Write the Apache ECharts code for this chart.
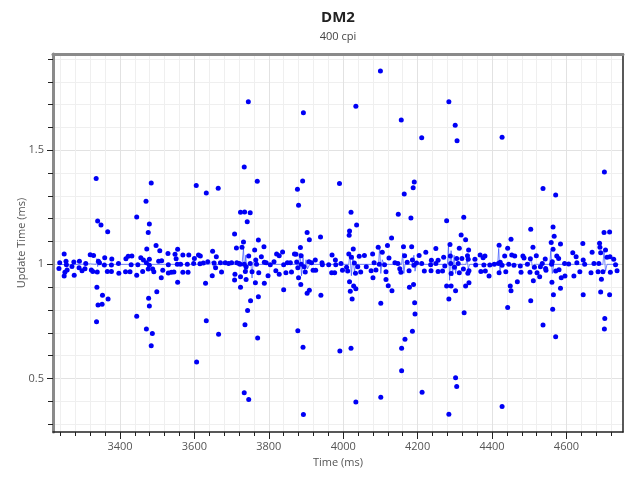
<!DOCTYPE html>
<html>
<head>
<meta charset="utf-8">
<script src="https://cdn.jsdelivr.net/npm/echarts@6/dist/echarts.min.js"></script>
<style>html,body{margin:0;padding:0;background:#fff}#c{width:640px;height:480px}</style>
</head>
<body>
<div id="c"></div>
<script>
// ---- data (time ms, update time ms) ----
const bandLeft = [
[3238,1.007],[3236,0.982],[3250,1.045],[3255,1.014],[3256,0.998],[3252,0.965],[3250,0.949],[3258,0.975],[3271,0.990],[3276,1.010],
[3277,0.952],[3291,1.013],[3290,0.985],[3298,0.972],[3308,1.004],[3306,0.981],[3320,1.042],[3323,0.975],[3329,1.039],[3327,0.969],
[3342,1.014],[3339,0.966],[3345,1.007],[3359,1.029],[3358,0.997],[3366,0.969],[3377,0.969],[3378,1.023],[3377,0.997],[3397,0.961],
[3396,1.004],[3416,1.025],[3415,0.967],[3422,1.035],[3432,1.036],[3430,0.998],[3427,0.967],[3445,0.952],[3448,0.998],[3456,1.029],
[3463,1.019],[3461,0.969],[3472,1.067],[3471,1.007],[3476,0.979],[3479,1.022],[3479,0.996],[3488,0.979],[3491,0.967],[3497,1.083],
[3504,1.014],[3507,1.060],[3512,1.016],[3511,0.941],[3515,0.974],[3529,1.048],[3530,0.998],[3530,0.962],[3538,0.965],[3545,0.966],
[3548,1.044],[3555,1.066],[3551,1.025],[3554,1.000],[3563,1.000],[3569,1.041],[3569,0.965],[3585,1.041],[3581,1.000],[3583,0.965],
[3598,1.004],[3600,1.026],[3611,1.041],[3616,1.036],[3615,1.003],[3624,1.006],[3636,1.011],[3649,1.057],[3648,0.950],[3653,1.006],
[3657,0.985],[3659,1.033],[3670,1.007],[3673,0.966],[3683,1.007],[3692,1.004],[3700,1.007],[3708,0.931],[3709,0.957],[3714,1.007],
[3724,0.946],[3720,1.004],[3734,1.000],[3737,0.969],[3739,0.934]
];
const bandMid = [
[3723,1.000],[3739,0.989],[3746,1.036],[3750,1.004],[3755,0.967],[3762,1.063],[3765,1.019],[3767,1.000],[3773,0.963],[3780,1.033],
[3788,1.009],[3793,1.007],[3798,0.950],[3804,0.998],[3814,1.011],[3819,0.972],[3821,1.045],[3828,1.038],[3828,0.956],[3837,1.054],
[3840,0.998],[3846,0.963],[3850,1.007],[3858,1.007],[3861,0.966],[3869,1.045],[3873,1.044],[3875,1.010],[3878,0.985],[3880,0.941],
[3887,1.038],[3887,1.000],[3895,0.989],[3898,0.966],[3908,1.011],[3915,1.007],[3919,0.974],[3925,1.019],[3926,0.974],[3943,1.007],
[3944,0.998],[3961,0.998],[3970,1.041],[3969,0.963],[3977,0.963],[3979,1.019],[3980,0.998],[3994,1.004],[3998,0.974],[4009,0.987],
[4012,0.971],[4015,1.045],[4022,1.031],[4027,1.067],[4030,1.006],[4033,0.961],[4039,0.989],[4043,1.035],[4047,0.966],[4057,1.039],
[4062,0.989],[4075,0.972],[4079,1.045],[4083,1.007],[4088,0.975],[4094,1.075],[4097,1.000],[4105,1.053],[4111,0.998],[4115,0.967],
[4123,1.028],[4139,1.007],[4147,1.004],[4152,0.981],[4155,0.965],[4162,1.077],[4165,1.038],[4172,1.009],[4177,0.972],[4186,1.019],
[4190,0.996],[4197,1.006],[4204,1.039],[4211,1.004],[4218,0.971],[4222,1.053],[4235,0.998],[4236,0.972],[4249,1.004]
];
const bandRight = [
[4237,1.018],[4255,1.018],[4255,0.969],[4267,0.971],[4270,1.031],[4273,0.993],[4288,1.036],[4289,1.004],[4290,0.960],[4299,0.987],
[4305,1.026],[4309,1.004],[4312,0.963],[4319,1.026],[4323,0.979],[4334,1.038],[4336,1.022],[4335,0.961],[4338,0.972],[4354,1.022],
[4356,0.997],[4368,1.041],[4370,0.969],[4376,1.029],[4378,0.997],[4381,1.036],[4382,0.971],[4392,0.949],[4394,0.997],[4406,1.000],
[4417,1.004],[4419,0.963],[4422,1.009],[4427,0.996],[4434,1.036],[4445,1.000],[4437,0.967],[4453,1.041],[4461,1.036],[4459,0.996],
[4468,0.924],[4478,0.965],[4476,0.993],[4483,1.036],[4486,1.028],[4495,1.000],[4502,0.965],[4503,1.025],[4511,0.928],[4514,0.987],
[4519,1.038],[4521,0.963],[4528,0.946],[4530,0.989],[4535,1.004],[4543,1.023],[4544,0.982],[4545,0.974],[4560,1.000],[4562,1.011],
[4564,1.066],[4571,0.971],[4574,1.036],[4579,1.026],[4580,0.976],[4586,0.941],[4596,0.949],[4595,1.004],[4606,1.001],[4617,1.051],
[4620,0.949],[4626,1.033],[4628,1.007],[4636,0.968],[4645,1.019],[4649,1.000],[4666,0.963],[4669,1.053],[4674,1.004],[4685,0.968],
[4687,1.004],[4692,1.051],[4694,0.935],[4698,0.968],[4705,1.063],[4709,1.031],[4717,1.033],[4718,0.965],[4727,1.022],[4732,0.998],
[4736,0.972]
];
const highOutliers = [
[3336,1.376],[3340,1.190],[3349,1.172],[3367,1.143],[3445,1.207],[3470,1.276],[3479,1.177],[3476,1.139],[3484,1.357],[3605,1.346],
[3632,1.313],[3664,1.333],[3734,1.427],[3745,1.713],[3724,1.228],[3735,1.229],[3742,1.187],[3750,1.226],[3708,1.133],[3732,1.098],
[3713,1.072],[3728,1.075],[4100,1.847],[3893,1.665],[4034,1.693],[4156,1.633],[4211,1.555],[3769,1.364],[3891,1.365],[3877,1.329],
[3990,1.354],[4191,1.361],[4188,1.336],[4164,1.308],[3880,1.259],[4021,1.228],[4036,1.172],[4017,1.146],[4016,1.127],[4148,1.219],
[4182,1.203],[4130,1.115],[3772,1.107],[3903,1.140],[3909,1.108],[3939,1.120],[3885,1.074],[3787,1.077],[4119,1.082],[4184,1.077],
[4249,1.069],[4284,1.713],[4301,1.610],[4306,1.542],[4427,1.557],[4702,1.405],[4537,1.332],[4571,1.304],[4278,1.191],[4324,1.206],
[4317,1.129],[4329,1.108],[4504,1.154],[4564,1.164],[4567,1.123],[4701,1.140],[4716,1.142],[4451,1.110],[4559,1.096],[4584,1.089],
[4644,1.091],[4689,1.092],[4690,1.075],[4287,1.087],[4419,1.084],[4442,1.071],[4510,1.075],[4312,1.070],[4337,1.063]
];
const lowOutliers = [
[3338,0.899],[3353,0.865],[3341,0.822],[3352,0.825],[3368,0.848],[3337,0.748],[3555,0.921],[3630,0.917],[3477,0.851],[3479,0.817],
[3445,0.772],[3471,0.716],[3487,0.697],[3484,0.643],[3499,0.880],[3632,0.753],[3665,0.694],[3606,0.572],[3724,0.900],[3736,0.735],
[3743,0.798],[3734,0.437],[3746,0.408],[3764,0.919],[3788,0.917],[3751,0.840],[3772,0.858],[3770,0.677],[3840,0.889],[3886,0.912],
[3903,0.873],[3909,0.886],[3940,0.865],[3878,0.709],[3892,0.636],[3991,0.620],[4021,0.632],[4017,0.924],[4019,0.882],[4028,0.905],
[4034,0.893],[4024,0.848],[4101,0.829],[4115,0.934],[4121,0.906],[4131,0.884],[4080,0.941],[4178,0.899],[4189,0.912],[4192,0.832],
[4193,0.782],[4186,0.707],[4166,0.672],[4157,0.632],[4157,0.533],[3893,0.342],[4034,0.396],[4101,0.417],[4212,0.439],[4278,0.905],
[4290,0.905],[4302,0.884],[4284,0.848],[4325,0.788],[4329,0.905],[4338,0.919],[4449,0.905],[4451,0.884],[4442,0.811],[4504,0.840],
[4537,0.734],[4563,0.803],[4565,0.867],[4561,0.921],[4584,0.895],[4571,0.682],[4645,0.867],[4692,0.879],[4716,0.867],[4703,0.763],
[4702,0.716],[4302,0.503],[4305,0.465],[4284,0.343],[4427,0.377]
];
// thin trace line near 1 ms
const traceLine = [
[3236,1.0],[3260,0.998],[3290,1.0],[3320,1.002],[3336,1.0],[3338,1.025],[3340,0.99],[3343,1.01],[3350,0.997],[3380,1.0],
[3420,1.0],[3470,1.0],[3474,1.015],[3477,0.985],[3480,1.0],[3520,1.0],[3560,1.0],[3600,1.0],[3640,1.0],[3648,1.012],
[3651,0.99],[3655,1.0],[3700,1.0],[3728,1.0],[3732,1.07],[3735,0.96],[3738,1.04],[3741,0.97],[3745,1.0],[3752,1.0],
[3755,0.94],[3758,1.01],[3765,1.0],[3800,1.0],[3840,1.0],[3880,1.0],[3884,1.05],[3888,0.95],[3892,1.03],[3896,0.97],
[3900,1.02],[3904,0.98],[3910,1.0],[3960,1.0],[4015,1.0],[4018,1.05],[4022,0.95],[4026,1.04],[4030,0.97],[4035,1.0],
[4080,1.0],[4095,1.0],[4098,1.08],[4101,0.96],[4105,1.02],[4110,1.0],[4150,1.0],[4157,1.0],[4160,1.05],[4163,0.96],
[4166,1.0],[4185,1.0],[4190,1.04],[4193,0.97],[4197,1.0],[4240,1.0],[4280,1.0],[4283,1.08],[4286,0.93],[4290,1.06],
[4294,0.95],[4298,1.04],[4302,0.96],[4306,1.0],[4330,1.0],[4333,1.03],[4336,0.98],[4340,1.0],[4380,1.0],[4415,1.0],
[4418,1.07],[4421,0.96],[4425,1.0],[4450,1.0],[4500,1.0],[4505,1.03],[4509,0.98],[4513,1.0],[4555,1.0],[4558,1.06],
[4562,0.96],[4566,1.0],[4620,1.0],[4698,1.0],[4701,1.06],[4705,0.97],[4709,1.0],[4740,1.0]
];
// ticks
const xMajorTicks = [3400,3600,3800,4000,4200,4400,4600];
const xMinorTicks = [3240,3280,3320,3360,3400,3440,3480,3520,3560,3600,3640,3680,3720,3760,3800,3840,3880,3920,3960,4000,
4040,4080,4120,4160,4200,4240,4280,4320,4360,4400,4440,4480,4520,4560,4600,4640,4680,4720];
const yMajorTicks = [0.5,1,1.5];
const yMinorTicks = [0.3,0.4,0.5,0.6,0.7,0.8,0.9,1,1.1,1.2,1.3,1.4,1.5,1.6,1.7,1.8,1.9];
const xRange = [3220,4752];
const yRange = [0.265,1.922];

const FONT = '"Open Sans", "Noto Sans", sans-serif';
const allPoints = bandLeft.concat(bandMid, bandRight, highOutliers, lowOutliers);

const chart = echarts.init(document.getElementById('c'), null, {renderer:'canvas'});
const labelStyle = {color:'#555', fontSize:11, fontFamily:FONT};
const plain = v => String(v);
chart.setOption({
  animation:false,
  backgroundColor:'#fff',
  title:{
    text:'DM2', subtext:'400 cpi', left:333, top:5, textAlign:'center', itemGap:6,
    textStyle:{fontSize:15, fontWeight:'bold', color:'#222', fontFamily:FONT},
    subtextStyle:{fontSize:11, color:'#444', fontFamily:FONT}
  },
  grid:{left:53, right:17, top:54, bottom:48, containLabel:false},
  xAxis:[
    {type:'value', min:xRange[0], max:xRange[1], position:'bottom',
     axisLine:{show:true, lineStyle:{color:'#222', width:1.5}},
     axisTick:{show:true, length:4, customValues:xMinorTicks, lineStyle:{color:'#222'}},
     axisLabel:{show:false},
     splitLine:{show:true, lineStyle:{color:'#efefef', width:1}}},
    {type:'value', min:xRange[0], max:xRange[1], position:'bottom', offset:0,
     name:'Time (ms)', nameLocation:'middle', nameGap:25, nameTextStyle:labelStyle, nameMoveOverlap:false,
     axisLine:{show:false},
     axisTick:{show:true, length:7, customValues:xMajorTicks, lineStyle:{color:'#222'}},
     axisLabel:Object.assign({customValues:xMajorTicks, margin:9, formatter:plain}, labelStyle),
     splitLine:{show:true, lineStyle:{color:'#e2e2e2', width:1}}},
    {type:'value', min:xRange[0], max:xRange[1], position:'top',
     axisLine:{show:true, lineStyle:{color:'#8a8a8a', width:3}},
     axisTick:{show:false}, axisLabel:{show:false}, splitLine:{show:false}}
  ],
  yAxis:[
    {type:'value', min:yRange[0], max:yRange[1], position:'left',
     axisLine:{show:true, lineStyle:{color:'#8a8a8a', width:3}},
     axisTick:{show:true, length:5, customValues:yMinorTicks, lineStyle:{color:'#222'}},
     axisLabel:{show:false},
     splitLine:{show:true, lineStyle:{color:'#efefef', width:1}}},
    {type:'value', min:yRange[0], max:yRange[1], position:'left', offset:0,
     name:'Update Time (ms)', nameLocation:'middle', nameGap:26, nameTextStyle:labelStyle, nameMoveOverlap:false,
     axisLine:{show:false},
     axisTick:{show:true, length:6, customValues:yMajorTicks, lineStyle:{color:'#222'}},
     axisLabel:Object.assign({customValues:yMajorTicks, margin:9, formatter:plain}, labelStyle),
     splitLine:{show:true, lineStyle:{color:'#e2e2e2', width:1}}},
    {type:'value', min:yRange[0], max:yRange[1], position:'right',
     axisLine:{show:true, lineStyle:{color:'#222', width:1.5}},
     axisTick:{show:false}, axisLabel:{show:false}, splitLine:{show:false}}
  ],
  series:[
    {type:'line', name:'trace', xAxisIndex:0, yAxisIndex:0, data:traceLine, showSymbol:false, symbol:'none',
     lineStyle:{color:'#3b55ff', width:1, opacity:0.7}, z:3},
    {type:'scatter', name:'points', xAxisIndex:0, yAxisIndex:0, data:allPoints, symbolSize:5,
     itemStyle:{color:'#0000f5', opacity:1}, z:4}
  ]
});
</script>
</body>
</html>
